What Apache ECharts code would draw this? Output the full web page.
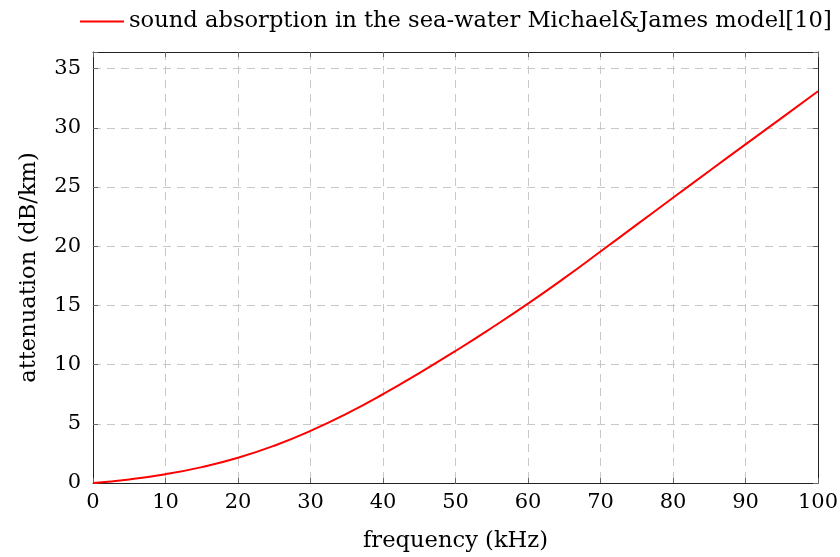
<!DOCTYPE html>
<html>
<head>
	<meta charset="utf-8" />
	<title>Sound absorption</title>
	<style type="text/css">
		html, body { margin: 0; padding: 0; background: #fff; }
		#main { width: 840px; height: 557px; }
	</style>
	<script src="https://cdn.jsdelivr.net/npm/echarts@6.0.0/dist/echarts.min.js"></script>
</head>
<body>
	<div id="main"></div>
	<script type="text/javascript">
		// frequency (kHz) and attenuation (dB/km)
		const freq = [0, 5, 10, 15, 20, 25, 30, 35, 40, 45, 50, 55, 60, 65, 70, 75, 80, 85, 90, 95, 100];
		const atten = [0, 0.3, 0.74, 1.34, 2.13, 3.15, 4.4, 5.86, 7.5, 9.28, 11.15, 13.11, 15.15, 17.3, 19.55, 21.82, 24.09, 26.35, 28.6, 30.84, 33.08];
		const seriesName = 'sound absorption in the sea-water Michael&James model[10]';

		const font = '"DejaVu Serif", "Liberation Serif", serif';
		const data = freq.map((f, i) => [f, atten[i]]);

		const tickStyle = { show: true, inside: true, length: 5, lineStyle: { color: '#666', width: 1 } };
		const gridLine = { show: true, lineStyle: { color: '#c8c8c8', type: [8, 6], width: 1 } };
		const boxLine = { show: true, onZero: false, lineStyle: { color: '#222', width: 1 } };

		const options = {
			animation: false,
			textStyle: { fontFamily: font },
			grid: { left: 93, right: 22, top: 52, bottom: 74, containLabel: false, outerBoundsMode: 'none' },
			legend: {
				data: [seriesName],
				left: 75,
				top: 5,
				icon: 'rect',
				itemWidth: 44,
				itemHeight: 2,
				itemGap: 4,
				textStyle: { fontFamily: font, fontSize: 22.6, color: '#000' }
			},
			xAxis: [
				{
					type: 'value',
					min: 0, max: 100, interval: 10,
					name: 'frequency (kHz)',
					nameLocation: 'middle',
					nameGap: 47,
					nameTextStyle: { fontFamily: font, fontSize: 22.6, color: '#000' },
					axisLine: boxLine,
					axisTick: tickStyle,
					axisLabel: { fontFamily: font, fontSize: 21, color: '#000', margin: 9 },
					splitLine: gridLine
				},
				{
					type: 'value', position: 'top',
					min: 0, max: 100, interval: 10,
					axisLine: boxLine,
					axisTick: tickStyle,
					axisLabel: { show: false },
					splitLine: { show: false }
				}
			],
			yAxis: [
				{
					type: 'value',
					min: 0, max: 36.4, interval: 5,
					name: 'attenuation (dB/km)',
					nameLocation: 'middle',
					nameGap: 52,
					nameTextStyle: { fontFamily: font, fontSize: 22.6, color: '#000' },
					axisLine: boxLine,
					axisTick: tickStyle,
					axisLabel: {
						fontFamily: font, fontSize: 21, color: '#000', margin: 12,
						formatter: v => (v % 5 === 0 ? String(v) : '')
					},
					splitLine: gridLine
				},
				{
					type: 'value', position: 'right',
					min: 0, max: 36.4, interval: 5,
					axisLine: boxLine,
					axisTick: tickStyle,
					axisLabel: { show: false },
					splitLine: { show: false }
				}
			],
			series: [
				{
					name: seriesName,
					type: 'line',
					data: data,
					smooth: true,
					symbol: 'none',
					lineStyle: { color: '#ff0000', width: 2 },
					itemStyle: { color: '#ff0000' }
				}
			]
		};

		const myChart = echarts.init(document.getElementById('main'));
		myChart.setOption(options);
	</script>
</body>
</html>
